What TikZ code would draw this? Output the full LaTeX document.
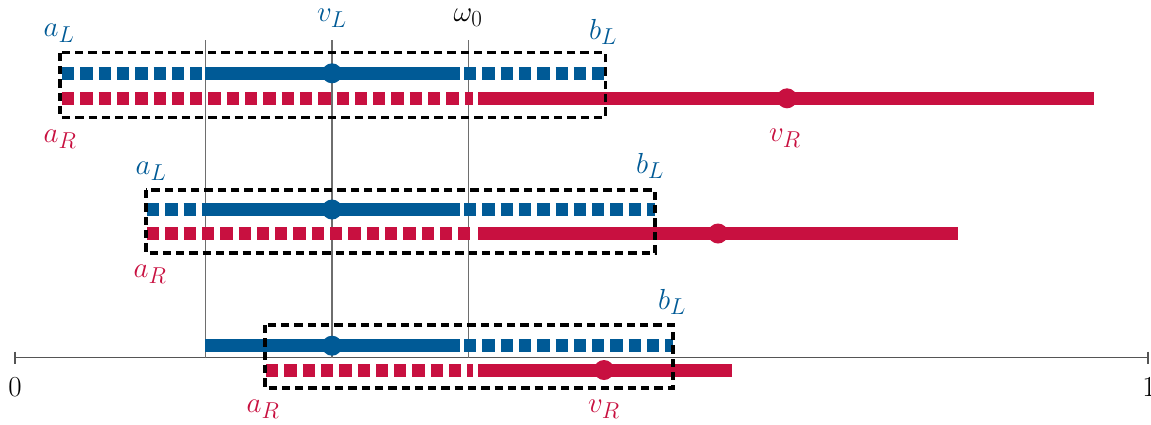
\documentclass[tikz,border=0pt]{standalone}
\usepackage{fix-cm}
\DeclareMathSizes{29}{29}{23}{17}
\definecolor{cblue}{RGB}{0,90,150}
\definecolor{cred}{RGB}{200,16,64}
\definecolor{vgray}{RGB}{110,110,110}
\definecolor{agray}{RGB}{85,85,85}
\begin{document}
\begin{tikzpicture}[x=1pt,y=-1pt,
  lbl/.style={inner sep=0pt,font=\fontsize{29}{34}\selectfont},
  bl/.style={lbl,text=cblue},
  rl/.style={lbl,text=cred},
  bsolid/.style={cblue,line width=13pt},
  bdash/.style={cblue,line width=13pt,dash pattern=on 12.3pt off 6pt},
  rsolid/.style={cred,line width=13pt},
  rdash/.style={cred,line width=13pt,dash pattern=on 12.3pt off 6pt},
  boxd/.style={black,line width=3.3pt,dash pattern=on 8.3pt off 5pt},
  vline/.style={vgray,line width=1.5pt},
  bdot/.style={circle,fill=cblue,inner sep=0pt,minimum size=20pt},
  rdot/.style={circle,fill=cred,inner sep=0pt,minimum size=20pt}]
\useasboundingbox (0,0) rectangle (1151,424);
% axis
\coordinate (ax0) at (15,357.5);
\coordinate (ax1) at (1148,357.5);
\draw[agray,line width=1.5pt] (ax0) -- (ax1);
\draw[agray,line width=1.5pt] (15,351.5) -- (15,363.5);
\draw[agray,line width=1.5pt] (1148,351.5) -- (1148,363.5);
\node[lbl] (zero) at (15,387) {$0$};
\node[lbl] (one) at (1149,387) {$1$};
% vertical lines
\coordinate (t1) at (205.5,40); \coordinate (u1) at (205.5,357.5);
\coordinate (t2) at (332,40); \coordinate (u2) at (332,357.5);
\coordinate (t3) at (468.5,40); \coordinate (u3) at (468.5,357.5);
\draw[vline] (t1) -- (u1);
\draw[vline] (t2) -- (u2);
\draw[vline] (t3) -- (u3);
% row 1
\draw[bdash] (62,73.3) -- (205,73.3);
\draw[bsolid] (205,73.3) -- (460,73.3);
\draw[bdash] (464,73.3) -- (605,73.3);
\draw[rdash] (62,98.3) -- (473,98.3);
\draw[rsolid] (478,98.3) -- (1094,98.3);
\node[bdot] (vL1) at (332,73.3) {};
\node[rdot] (vR1) at (787,98.3) {};
\draw[boxd] (60,52.7) rectangle (605.5,117.3);
\node[bl] (aL1) at (59,33) {$a_L$};
\node[bl] (vLl) at (332,18) {$v_L$};
\node[lbl] (w0) at (468,18) {$\omega_0$};
\node[bl] (bL1) at (603,32) {$b_L$};
\node[rl] (aR1) at (60,139) {$a_R$};
\node[rl] (vRl1) at (785,138) {$v_R$};
% row 2
\draw[bdash] (147,209.5) -- (205,209.5);
\draw[bsolid] (205,209.5) -- (460,209.5);
\draw[bdash] (464,209.5) -- (655,209.5);
\draw[rdash] (147,233.5) -- (473,233.5);
\draw[rsolid] (478,233.5) -- (958,233.5);
\node[bdot] (vL2) at (332,209.5) {};
\node[rdot] (vR2) at (718,233.5) {};
\draw[boxd] (146,190) rectangle (655,253);
\node[bl] (aL2) at (151,171) {$a_L$};
\node[bl] (bL2) at (650,166) {$b_L$};
\node[rl] (aR2) at (150,274) {$a_R$};
% row 3
\draw[bsolid] (205,345.7) -- (460,345.7);
\draw[bdash] (464,345.7) -- (673,345.7);
\draw[rdash] (266,370) -- (473,370);
\draw[rsolid] (478,370) -- (732,370);
\node[bdot] (vL3) at (332,345.7) {};
\node[rdot] (vR3) at (604,370) {};
\draw[boxd] (265,325) rectangle (673,388);
\node[bl] (bL3) at (672,302) {$b_L$};
\node[rl] (aR3) at (263,409) {$a_R$};
\node[rl] (vRl3) at (604,409) {$v_R$};
\end{tikzpicture}
\end{document}
